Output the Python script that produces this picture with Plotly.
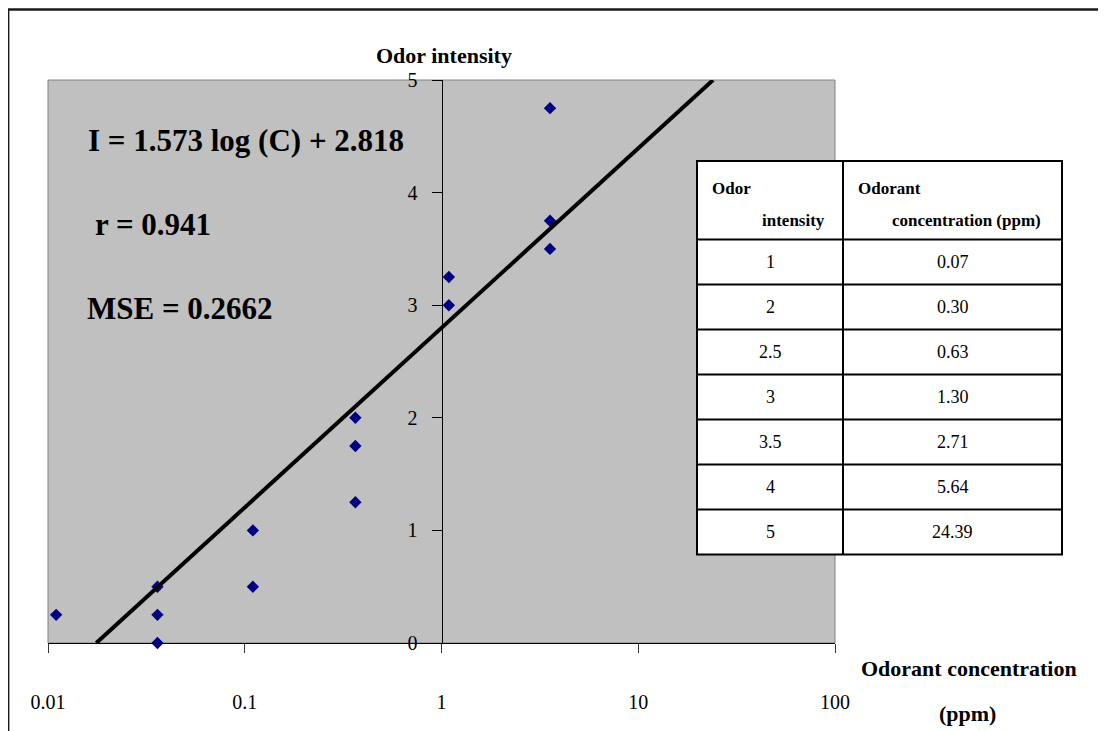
import plotly.graph_objects as go

# ---------------- data ----------------
conc = [0.011, 0.036, 0.036, 0.036, 0.11, 0.11, 0.365, 0.365, 0.365, 1.09, 1.09, 3.56, 3.56, 3.56]
intensity = [0.25, 0.5, 0.25, 0.0, 1.0, 0.5, 2.0, 1.75, 1.25, 3.25, 3.0, 4.75, 3.75, 3.5]
trend_conc = [0.0176, 24.0]
trend_int = [0, 5]
x_tickvals = [0.01, 0.1, 1, 10, 100]
x_ticktext = ["0.01", "0.1", "1", "10", "100"]
y_tickvals = [0, 1, 2, 3, 4, 5]
table_intensity = ["1", "2", "2.5", "3", "3.5", "4", "5"]
table_conc = ["0.07", "0.30", "0.63", "1.30", "2.71", "5.64", "24.39"]
stats = ["I = 1.573 log (C) + 2.818", "r = 0.941", "MSE = 0.2662"]

FONT = "Liberation Serif, Times New Roman, serif"

# page offset (body margin) and plot-area geometry in target pixels
OFF = 8
L, T, W, H = 48, 80, 787, 563
FW, FH = 1106 - OFF, 731 - OFF
ml, mt = L - OFF, T - OFF
mr = FW - ml - W
mb = FH - mt - H


def px(x):
    return (x - L) / W


def py(y):
    return (T + H - y) / H


fig = go.Figure()
fig.add_trace(go.Scatter(
    x=conc, y=intensity, mode="markers", cliponaxis=False,
    marker=dict(symbol="diamond", size=9.5, color="#000080", line=dict(width=0)),
    showlegend=False, hoverinfo="x+y"))
fig.add_trace(go.Scatter(
    x=trend_conc, y=trend_int, mode="lines",
    line=dict(color="black", width=4), showlegend=False))

shapes = []
shapes.append(dict(type="rect", xref="paper", yref="paper", x0=0, x1=1, y0=0, y1=1,
                   line=dict(color="#808080", width=1), layer="below"))
# outer chart border (top and left)
shapes.append(dict(type="line", xref="paper", yref="paper", x0=px(8), x1=px(1110),
                   y0=py(9.5), y1=py(9.5), line=dict(color="#1a1a1a", width=2.5)))
shapes.append(dict(type="line", xref="paper", yref="paper", x0=px(8.7), x1=px(8.7),
                   y0=py(9), y1=py(735), line=dict(color="#1a1a1a", width=1.4)))

# table geometry
tl, tm, tr = 697, 843, 1062
ttop, thead = 161, 239.5
row_h = 45
n = len(table_intensity)
tbot = thead + n * row_h
shapes.append(dict(type="rect", xref="paper", yref="paper", x0=px(tl), x1=px(tr),
                   y0=py(tbot), y1=py(ttop), fillcolor="white",
                   line=dict(color="black", width=2)))
shapes.append(dict(type="line", xref="paper", yref="paper", x0=px(tm), x1=px(tm),
                   y0=py(tbot), y1=py(ttop), line=dict(color="black", width=2)))
for i in range(n):
    yy = thead + i * row_h
    shapes.append(dict(type="line", xref="paper", yref="paper", x0=px(tl), x1=px(tr),
                       y0=py(yy), y1=py(yy), line=dict(color="black", width=2)))

annotations = []


def ann(text, x, y, size, bold=False, xanchor="center", yanchor="middle"):
    annotations.append(dict(
        text=f"<b>{text}</b>" if bold else text, x=px(x), y=py(y),
        xref="paper", yref="paper", showarrow=False,
        xanchor=xanchor, yanchor=yanchor,
        font=dict(family=FONT, size=size, color="black")))


# stats text
ann(stats[0], 86, 140, 31, True, "left")
ann(stats[1], 93, 224, 31, True, "left")
ann(stats[2], 85, 308, 31, True, "left")

# axis titles
ann("Odor intensity", 444, 56, 22, True)
ann("Odorant concentration", 859, 668, 22, True, "left")
ann("(ppm)", 967, 713, 22, True)

# table header
ann("Odor", 710, 188, 17, True, "left")
ann("intensity", 827, 220, 17, True, "right")
ann("Odorant", 856, 188, 17, True, "left")
ann("concentration (ppm)", 1043, 220, 17, True, "right")
for i in range(n):
    cy = thead + (i + 0.5) * row_h
    ann(table_intensity[i], (tl + tm) / 2, cy, 18)
    ann(table_conc[i], (tm + tr) / 2, cy, 18)

fig.update_layout(
    width=FW, height=FH,
    margin=dict(l=ml, r=mr, t=mt, b=mb, pad=0),
    paper_bgcolor="white", plot_bgcolor="#C0C0C0",
    shapes=shapes, annotations=annotations, showlegend=False,
    font=dict(family=FONT, size=20, color="black"),
    xaxis=dict(type="log", range=[-2, 2], tickvals=x_tickvals, ticktext=x_ticktext,
               showgrid=False, zeroline=False, showline=True, linecolor="black", linewidth=1.2,
               ticks="outside", ticklen=9, tickcolor="#333333", tickwidth=1,
               ticklabelstandoff=32, tickfont=dict(family=FONT, size=20)),
    yaxis=dict(range=[0, 5], tickvals=y_tickvals, anchor="free", position=0.5,
               showgrid=False, zeroline=False, showline=True, linecolor="black", linewidth=1,
               ticks="outside", ticklen=10, tickcolor="black", tickwidth=1,
               ticklabelstandoff=10, tickfont=dict(family=FONT, size=20)),
)

fig.write_html("out.html")
